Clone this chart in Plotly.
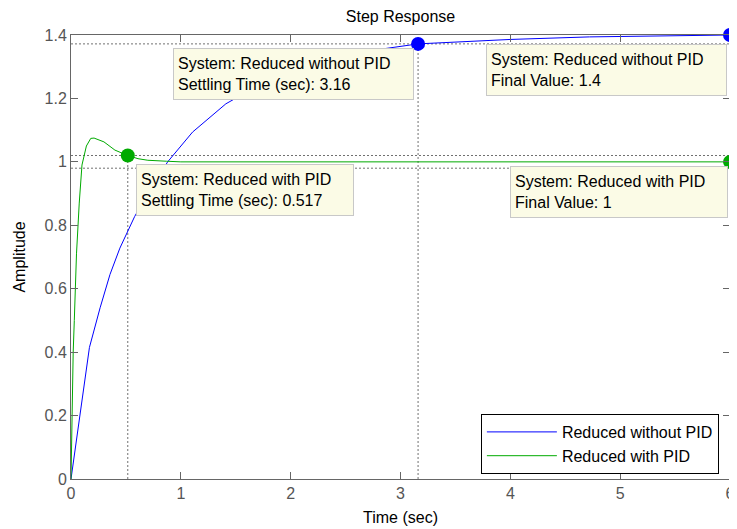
import plotly.graph_objects as go

# ---- data ----
t_without = [0, 0.084, 0.168, 0.265, 0.355, 0.445, 0.511, 0.58, 0.70, 0.88, 1.107, 1.41,
             1.70, 2.00, 2.30, 2.674, 3.16, 4.00, 4.72, 6.00]
y_without = [0, 0.207, 0.415, 0.540, 0.645, 0.728, 0.775, 0.828, 0.900, 1.000, 1.094, 1.183,
             1.240, 1.290, 1.320, 1.348, 1.372, 1.386, 1.394, 1.400]

t_with = [0, 0.01, 0.02, 0.03, 0.05, 0.075, 0.10, 0.14, 0.18, 0.21, 0.30, 0.40, 0.517,
          0.61, 0.70, 0.87, 1.00, 6.00]
y_with = [0, 0.22, 0.40, 0.50, 0.71, 0.87, 0.99, 1.05, 1.074, 1.075, 1.063, 1.037, 1.020,
          1.010, 1.005, 1.002, 1.000, 1.000]

names = ["Reduced without PID", "Reduced with PID"]
settling_time = [3.16, 0.517]
settling_value = [1.372, 1.02]
final_value = [1.4, 1.0]
band = [0.98, 1.02]
x_ticks = [0, 1, 2, 3, 4, 5, 6]
y_ticks = [0, 0.2, 0.4, 0.6, 0.8, 1.0, 1.2, 1.4]
y_tick_text = ["0", "0.2", "0.4", "0.6", "0.8", "1", "1.2", "1.4"]

BLUE = "#0000ff"
GREEN = "#00aa00"
GRID = "#707070"
AXC = "#666666"
FONT = "Liberation Sans, Arial, sans-serif"
FS = 16

fig = go.Figure()

fig.add_trace(go.Scatter(x=t_without, y=y_without, mode="lines", name=names[0],
                         line=dict(color=BLUE, width=1)))
fig.add_trace(go.Scatter(x=t_with, y=y_with, mode="lines", name=names[1],
                         line=dict(color=GREEN, width=1)))

# markers (settling / final value)
fig.add_trace(go.Scatter(x=[settling_time[0], 6], y=[settling_value[0], final_value[0]],
                         mode="markers", marker=dict(color=BLUE, size=14),
                         showlegend=False, hoverinfo="skip", cliponaxis=False))
fig.add_trace(go.Scatter(x=[settling_time[1], 6], y=[settling_value[1], final_value[1]],
                         mode="markers", marker=dict(color=GREEN, size=14),
                         showlegend=False, hoverinfo="skip", cliponaxis=False))

# dotted reference lines
dot = dict(color=GRID, width=1, dash="2px,2px")
shapes = []
for yv in [settling_value[0]] + band:
    shapes.append(dict(type="line", xref="x", yref="y", x0=0, x1=6, y0=yv, y1=yv,
                       line=dot, layer="below"))
for ts, ys in zip(settling_time, settling_value):
    shapes.append(dict(type="line", xref="x", yref="y", x0=ts, x1=ts, y0=0, y1=ys,
                       line=dot, layer="below"))

box = dict(bgcolor="#fbfbe6", bordercolor="#c8c8c8", borderwidth=1, borderpad=4,
           font=dict(family=FONT, size=FS, color="#000000"), align="left",
           showarrow=False, xanchor="left", yanchor="top", xref="x", yref="y",
           height=42, valign="middle")
annotations = [
    dict(x=0.928, y=1.358, width=231,
         text="System: " + names[0] + "<br>Settling Time (sec): " + str(settling_time[0]), **box),
    dict(x=0.596, y=0.992, width=208,
         text="System: " + names[1] + "<br>Settling Time (sec): " + str(settling_time[1]), **box),
    dict(x=3.777, y=1.3715, width=231,
         text="System: " + names[0] + "<br>Final Value: " + str(final_value[0]), **box),
    dict(x=4.0, y=0.986, width=208,
         text="System: " + names[1] + "<br>Final Value: " + str(int(final_value[1])), **box),
]

axis_common = dict(showline=True, linecolor=AXC, linewidth=1, mirror="ticks",
                   ticks="inside", ticklen=7, tickcolor=AXC, showgrid=False,
                   zeroline=False, automargin=True,
                   tickfont=dict(family=FONT, size=FS, color="#555555"))

fig.update_layout(
    width=737, height=529,
    margin=dict(l=63, r=10, t=27, b=58),
    paper_bgcolor="white", plot_bgcolor="white",
    font=dict(family=FONT, size=FS, color="#000000"),
    title=dict(text="Step Response", x=0.5, xref="paper", xanchor="center",
               y=1 - 8.7 / 529, yanchor="middle",
               font=dict(family=FONT, size=FS, color="#000000")),
    xaxis=dict(range=[0, 6], tickvals=x_ticks, **axis_common,
               title=dict(text="Time (sec)", standoff=10,
                          font=dict(family=FONT, size=FS, color="#000000"))),
    yaxis=dict(range=[0, 1.4], tickvals=y_ticks, ticktext=y_tick_text, **axis_common,
               title=dict(text="Amplitude", standoff=14,
                          font=dict(family=FONT, size=FS, color="#000000"))),
    legend=dict(x=(476 - 63) / 664, y=(471 - 406) / 444, xanchor="left", yanchor="top",
                bgcolor="white", bordercolor="#000000", borderwidth=1,
                font=dict(family=FONT, size=FS, color="#000000"),
                itemwidth=70),
    shapes=shapes,
    annotations=annotations,
    showlegend=True,
)

fig.write_html("out.html")
